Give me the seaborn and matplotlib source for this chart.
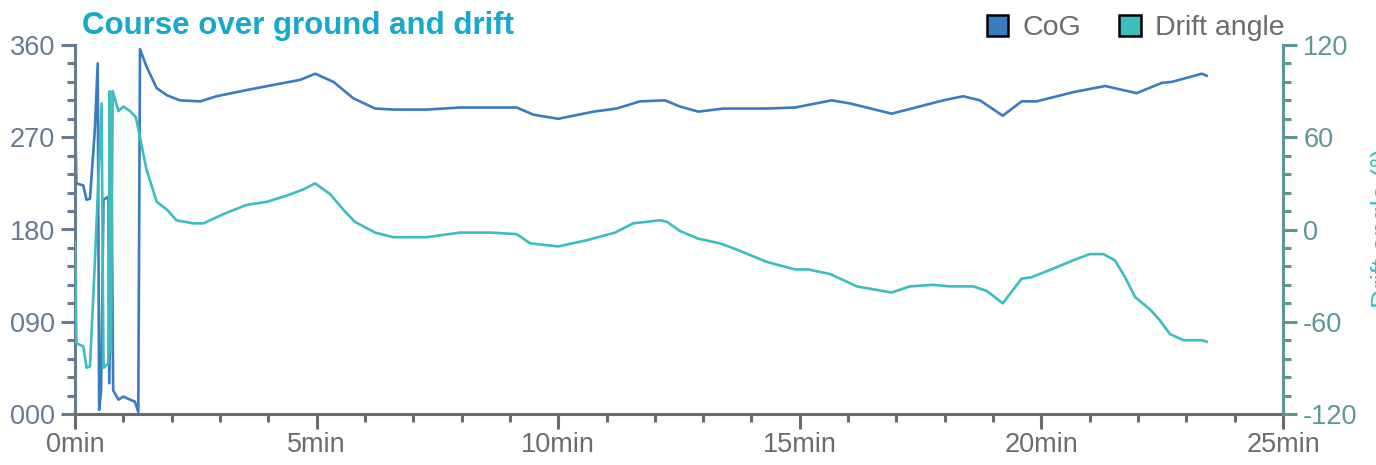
import pandas as pd
import seaborn as sns
import matplotlib.pyplot as plt
from matplotlib.patches import Patch

# course over ground (deg) vs time (min)
cog_time = [0.0, 0.03, 0.17, 0.24, 0.31, 0.41, 0.47, 0.50, 0.54, 0.59, 0.69, 0.71,
            0.76, 0.79, 0.90, 1.00, 1.14, 1.24, 1.31, 1.345, 1.48, 1.69, 1.90, 2.17,
            2.59, 2.93, 3.55, 4.10, 4.66, 4.97, 5.35, 5.76, 6.21, 6.59, 7.28, 7.97,
            8.60, 9.14, 9.49, 10.0, 10.73, 11.21, 11.69, 12.21, 12.52, 12.90, 13.42,
            14.31, 14.90, 15.66, 16.04, 16.90, 17.97, 18.38, 18.73, 19.20, 19.59,
            19.90, 20.66, 21.32, 21.97, 22.49, 22.70, 23.32, 23.42]
cog_deg = [292, 225, 223, 209, 210, 277, 342, 4, 23, 209, 212, 30,
           209, 23, 14, 17, 14, 12, 2, 356, 339, 318, 311, 306,
           305, 310, 316, 321, 326, 332, 324, 308, 298, 297, 297, 299,
           299, 299, 292, 288, 295, 298, 305, 306, 300, 295, 298,
           298, 299, 306, 303, 293, 306, 310, 306, 291, 305,
           305, 314, 320, 313, 323, 324, 332, 330]

# drift angle (deg) vs time (min)
drift_time = [0.0, 0.03, 0.17, 0.24, 0.31, 0.41, 0.55, 0.59, 0.69, 0.72, 0.745,
              0.78, 0.90, 1.00, 1.14, 1.26, 1.345, 1.48, 1.69, 1.90, 2.10, 2.45,
              2.66, 3.07, 3.55, 3.97, 4.38, 4.72, 4.97, 5.28, 5.55, 5.79, 6.21,
              6.59, 6.93, 7.28, 7.97, 8.60, 9.14, 9.42, 10.0, 10.59, 11.18, 11.55,
              12.11, 12.25, 12.52, 12.90, 13.35, 13.69, 14.31, 14.90, 15.18, 15.63,
              16.18, 16.90, 17.28, 17.76, 18.10, 18.59, 18.87, 19.20, 19.59, 19.80,
              20.28, 20.66, 21.00, 21.28, 21.52, 21.73, 21.94, 22.25, 22.45, 22.66,
              22.94, 23.32, 23.42]
drift_deg = [-8, -74, -76, -90, -89, -22, 82, -90, -87, 90, -80,
             90, 77, 80, 77, 73, 60, 39, 18, 13, 6, 4,
             4, 10, 16, 18, 22, 26, 30, 23, 13, 5, -2,
             -5, -5, -5, -2, -2, -3, -9, -11, -7, -2, 4,
             6, 5, -1, -6, -9, -13, -21, -26, -26, -29,
             -37, -41, -37, -36, -37, -37, -40, -48, -32, -31,
             -25, -20, -16, -16, -20, -31, -44, -52, -59, -68,
             -72, -72, -73]

left_ticks = [0, 90, 180, 270, 360]
left_labels = ['000', '090', '180', '270', '360']
right_ticks = [-120, -60, 0, 60, 120]
right_labels = ['-120', '-60', '0', '60', '120']
x_ticks = [0, 5, 10, 15, 20, 25]
x_labels = ['0min', '5min', '10min', '15min', '20min', '25min']

cog_color = '#3b7bc0'
drift_color = '#3dbdbd'
left_col = '#667a93'
right_col = '#5e9696'
x_col = '#6b6b6b'

plt.rcParams['font.family'] = ['Liberation Sans', 'DejaVu Sans']

df_cog = pd.DataFrame({'t': cog_time, 'cog': cog_deg})
df_drift = pd.DataFrame({'t': drift_time, 'drift': drift_deg})

fig = plt.figure(figsize=(13.76, 4.65), dpi=100)
ax = fig.add_axes([75 / 1376, 1 - 414 / 465, (1283 - 75) / 1376, (414 - 45) / 465])
ax2 = ax.twinx()

sns.lineplot(data=df_cog, x='t', y='cog', ax=ax, color=cog_color, lw=1.9,
             estimator=None, sort=False)
sns.lineplot(data=df_drift, x='t', y='drift', ax=ax2, color=drift_color, lw=1.9,
             estimator=None, sort=False)

ax.set_xlim(0, 25)
ax.set_ylim(0, 360)
ax2.set_ylim(-120, 120)
ax.set_xlabel('')
ax.set_ylabel('')
ax2.set_ylabel('')

ax.set_xticks(x_ticks, x_labels)
ax.set_xticks(range(0, 26), minor=True)
ax.set_yticks(left_ticks, left_labels)
ax.set_yticks(range(0, 361, 18), minor=True)
ax2.set_yticks(right_ticks, right_labels)
ax2.set_yticks(range(-120, 121, 12), minor=True)

for a in (ax, ax2):
    a.spines['top'].set_visible(False)
    a.patch.set_alpha(0)
ax.spines['right'].set_visible(False)
ax2.spines['left'].set_visible(False)
ax2.spines['bottom'].set_visible(False)

ax.spines['left'].set_color(left_col)
ax.spines['left'].set_linewidth(2.2)
ax.spines['bottom'].set_color(x_col)
ax.spines['bottom'].set_linewidth(2.2)
ax2.spines['right'].set_color(right_col)
ax2.spines['right'].set_linewidth(2.2)

ax.tick_params(axis='y', which='major', length=10, width=2.2, color=left_col,
               labelcolor=left_col, labelsize=19.5, pad=4.5)
ax.tick_params(axis='y', which='minor', length=6, width=2.2, color=left_col)
ax.tick_params(axis='x', which='major', length=11, width=2.2, color=x_col,
               labelcolor=x_col, labelsize=19.5, pad=2)
ax.tick_params(axis='x', which='minor', length=6, width=2.2, color=x_col)
ax2.tick_params(axis='y', which='major', length=10, width=2.2, color=right_col,
                labelcolor=right_col, labelsize=19.5, pad=4.5)
ax2.tick_params(axis='y', which='minor', length=6, width=2.2, color=right_col)

fig.text(82 / 1376, 1 - 26 / 465, 'Course over ground and drift', color='#17a9c9',
         fontsize=22.5, fontweight='bold', ha='left', va='center')

# axis title sits mostly beyond the right edge, as in the source
fig.text(1371 / 1376, 1 - 228 / 465, 'Drift angle (°)', color=drift_color,
         fontsize=19.5, rotation=90, ha='left', va='center')

handles = [Patch(facecolor=cog_color, edgecolor='black', linewidth=1.8, label='CoG'),
           Patch(facecolor=drift_color, edgecolor='black', linewidth=1.8, label='Drift angle')]
fig.legend(handles=handles, loc='center right', bbox_to_anchor=(1296 / 1376, 1 - 28 / 465),
           ncol=2, frameon=False, fontsize=20.5, labelcolor='#6b6b6b', handlelength=0.75,
           handleheight=0.75, handletextpad=0.5, columnspacing=1.35, borderaxespad=0)

fig.savefig('out.png', dpi=100)
